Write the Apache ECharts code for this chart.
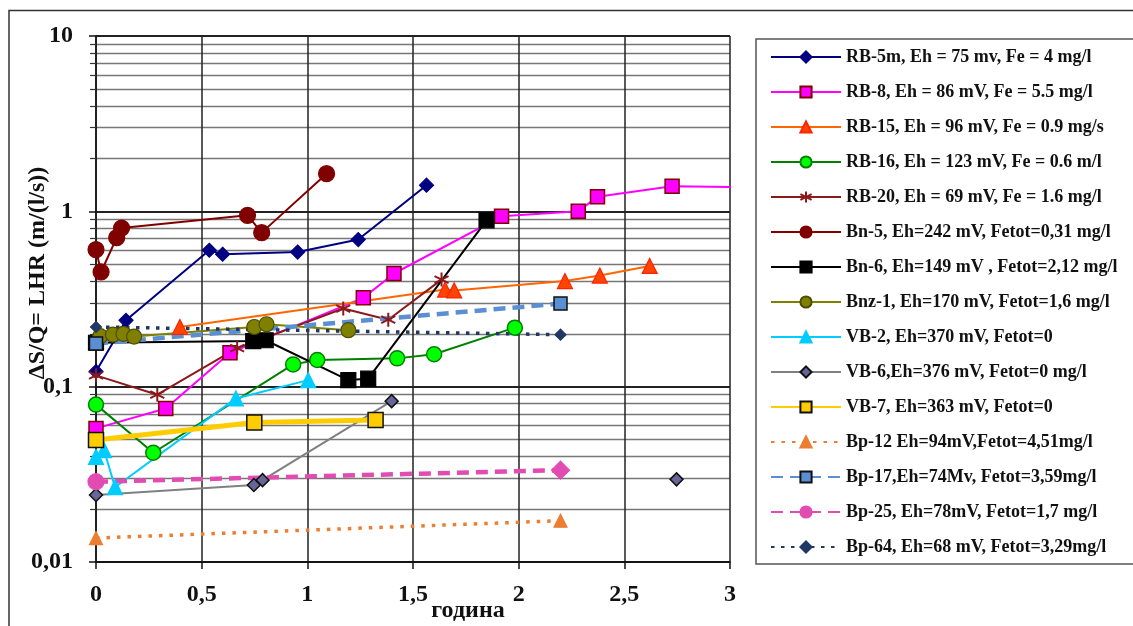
<!DOCTYPE html>
<html><head><meta charset="utf-8">
<script src="https://cdn.jsdelivr.net/npm/echarts@6/dist/echarts.min.js"></script>
<style>html,body{margin:0;padding:0;background:#fff}#c{width:1133px;height:626px}</style>
</head><body><div id="c"></div>
<script>
// ---- data (x = година, y = ΔS/Q) ----
const seriesNames = [
  'RB-5m, Eh = 75 mv, Fe = 4 mg/l',
  'RB-8, Eh = 86 mV, Fe = 5.5 mg/l',
  'RB-15, Eh = 96 mV, Fe = 0.9 mg/s',
  'RB-16, Eh = 123 mV, Fe = 0.6 m/l',
  'RB-20, Eh = 69 mV, Fe = 1.6 mg/l',
  'Bn-5, Eh=242 mV, Fetot=0,31 mg/l',
  'Bn-6, Eh=149 mV , Fetot=2,12 mg/l',
  'Bnz-1, Eh=170 mV, Fetot=1,6 mg/l',
  'VB-2, Eh=370 mV, Fetot=0',
  'VB-6,Eh=376 mV, Fetot=0 mg/l',
  'VB-7, Eh=363 mV, Fetot=0',
  'Bp-12 Eh=94mV,Fetot=4,51mg/l',
  'Bp-17,Eh=74Mv, Fetot=3,59mg/l',
  'Bp-25, Eh=78mV, Fetot=1,7 mg/l',
  'Bp-64, Eh=68 mV, Fetot=3,29mg/l'
];
const rb5m = [[0,0.122],[0.142,0.239],[0.536,0.60],[0.599,0.569],[0.954,0.586],[1.241,0.69],[1.564,1.41]];
const rb8  = [[0,0.0578],[0.33,0.075],[0.634,0.156],[1.265,0.321],[1.41,0.442],[1.919,0.937],[2.282,1.0],[2.373,1.21],[2.726,1.39],[3.1,1.37]];
const rb15 = [[0.397,0.219],[1.652,0.358],[1.695,0.354],[2.219,0.40],[2.384,0.43],[2.62,0.488]];
const rb16 = [[0,0.079],[0.271,0.042],[0.933,0.134],[1.047,0.142],[1.425,0.145],[1.60,0.153],[1.982,0.217]];
const rb20 = [[0,0.116],[0.29,0.090],[0.668,0.166],[1.17,0.279],[1.383,0.241],[1.635,0.408]];
const bn5  = [[0,0.605],[0.024,0.451],[0.098,0.708],[0.121,0.803],[0.717,0.949],[0.784,0.756],[1.091,1.64]];
const bn6  = [[0,0.178],[0.744,0.182],[0.803,0.184],[1.194,0.109],[1.288,0.111],[1.848,0.889]];
const bnz1 = [[0.02,0.194],[0.08,0.198],[0.13,0.2],[0.18,0.193],[0.749,0.219],[0.807,0.227],[1.194,0.21]];
const vb2  = [[0,0.0398],[0.038,0.0435],[0.09,0.0267],[0.662,0.0857],[1.004,0.109]];
const vb6  = [[0,0.0241],[0.747,0.0275],[0.788,0.0293],[1.399,0.0827],[2.0,'-'],[2.747,0.0296]];
const vb7  = [[0,0.0496],[0.749,0.0625],[1.323,0.0645]];
const bp12 = [[0,0.0137],[2.198,0.0172]];
const bp17 = [[0,0.176],[2.198,0.298]];
const bp25 = [[0,0.0287],[2.198,0.0334]];
const bp64 = [[0,0.219],[2.198,0.198]];
const yTitle = 'ΔS/Q= LHR (m/(l/s))';
const xTitle = 'година';

// ---- styling ----
const FONT = '"Liberation Serif", "DejaVu Serif", serif';
const asterisk = 'path://M0,-10 L0,10 M-8.66,-5 L8.66,5 M-8.66,5 L8.66,-5 M0,-10 Z';
function S(name, data, o) {
  return {
    name, type: 'line', data,
    symbol: o.symbol, symbolSize: o.size,
    showSymbol: true,
    lineStyle: { color: o.line, width: o.width || 2, type: o.type || 'solid' },
    itemStyle: { color: o.fill, borderColor: o.border || o.fill, borderWidth: o.bw == null ? 1.2 : o.bw },
    emphasis: { disabled: true },
    animation: false
  };
}
const bp25Data = bp25.map((p, i) => i === bp25.length - 1 ? { value: p, symbol: 'diamond', symbolSize: 18 } : p);

const chart = echarts.init(document.getElementById('c'), null, { renderer: 'canvas' });
chart.setOption({
  backgroundColor: '#ffffff',
  animation: false,
  grid: { left: 96, right: 403, top: 36, bottom: 64 },
  xAxis: {
    type: 'value', min: 0, max: 3, interval: 0.5,
    axisLine: { lineStyle: { color: '#111', width: 1.5 } },
    axisTick: { show: true, length: 7, lineStyle: { color: '#111', width: 1.5 } },
    splitLine: { show: true, lineStyle: { color: '#222', width: 1.5 } },
    axisLabel: { fontFamily: FONT, fontWeight: 'bold', fontSize: 24, color: '#111', margin: 21,
      formatter: v => String(v).replace('.', ',') }
  },
  yAxis: {
    type: 'log', logBase: 10, min: 0.01, max: 10,
    axisLine: { show: true, lineStyle: { color: '#111', width: 1.5 } },
    axisTick: { show: true, length: 7, lineStyle: { color: '#111', width: 1.5 } },
    minorTick: { show: true, splitNumber: 9, length: 6, lineStyle: { color: '#333', width: 1.2 } },
    splitLine: { show: true, lineStyle: { color: '#222', width: 1.8 } },
    minorSplitLine: { show: true, lineStyle: { color: '#777', width: 1.4 } },
    axisLabel: { fontFamily: FONT, fontWeight: 'bold', fontSize: 24, color: '#111', margin: 23,
      formatter: v => String(v).replace('.', ',') }
  },
  legend: {
    orient: 'vertical', left: 770, top: 47, padding: 0,
    itemWidth: 70, itemHeight: 14, itemGap: 15,
    textStyle: { fontFamily: FONT, fontWeight: 'bold', fontSize: 18, color: '#111', lineHeight: 20 },
    data: seriesNames
  },
  graphic: [
    { type: 'rect', silent: true, z: -10, shape: { x: 9, y: 10.5, width: 1200, height: 700 },
      style: { fill: 'none', stroke: '#333', lineWidth: 1.5 } },
    { type: 'rect', silent: true, z: -10, shape: { x: 756, y: 39, width: 420, height: 525 },
      style: { fill: 'none', stroke: '#555', lineWidth: 1.5 } },
    { type: 'text', silent: true, x: 38, y: 273, rotation: Math.PI / 2,
      style: { text: yTitle, font: 'bold 24px ' + FONT, fill: '#111', align: 'center', verticalAlign: 'middle' } },
    { type: 'text', silent: true, x: 468, y: 611,
      style: { text: xTitle, font: 'bold 24px ' + FONT, fill: '#111', align: 'center', verticalAlign: 'middle' } }
  ],
  series: [
    S(seriesNames[0], rb5m, { symbol: 'diamond', size: 14, line: '#000080', fill: '#000080' }),
    S(seriesNames[1], rb8, { symbol: 'rect', size: 14, line: '#ff00ff', fill: '#ff00ff', border: '#800000', bw: 1.5 }),
    S(seriesNames[2], rb15, { symbol: 'triangle', size: 15, line: '#ff6600', fill: '#ff4400', border: '#ff2200' }),
    S(seriesNames[3], rb16, { symbol: 'circle', size: 15, line: '#008000', fill: '#00ff00', border: '#008000', bw: 1.5 }),
    S(seriesNames[4], rb20, { symbol: asterisk, size: 14, line: '#8b1a1a', fill: '#8b1a1a', border: '#8b1a1a', bw: 2 }),
    S(seriesNames[5], bn5, { symbol: 'circle', size: 16, line: '#800000', fill: '#800000' }),
    S(seriesNames[6], bn6, { symbol: 'rect', size: 15, line: '#000000', fill: '#000000' }),
    S(seriesNames[7], bnz1, { symbol: 'circle', size: 15, line: '#808000', fill: '#808000', border: '#4d4d00' }),
    S(seriesNames[8], vb2, { symbol: 'triangle', size: 15, line: '#00ccff', fill: '#00ccff' }),
    S(seriesNames[9], vb6, { symbol: 'diamond', size: 13, line: '#808080', fill: '#666699', border: '#111', bw: 1.5 }),
    S(seriesNames[10], vb7, { symbol: 'rect', size: 15, line: '#ffcc00', fill: '#ffcc00', border: '#111', bw: 1.5, width: 5 }),
    S(seriesNames[11], bp12, { symbol: 'triangle', size: 13, line: '#ed7d31', fill: '#ed7d31', width: 3.5, type: [3.5, 7] }),
    S(seriesNames[12], bp17, { symbol: 'rect', size: 13, line: '#5b8fd4', fill: '#5b8fd4', border: '#111', bw: 1.5, width: 4.5, type: [12, 7] }),
    S(seriesNames[13], bp25Data, { symbol: 'circle', size: 16, line: '#e24cb2', fill: '#e24cb2', width: 4.5, type: [12, 7] }),
    S(seriesNames[14], bp64, { symbol: 'diamond', size: 11, line: '#1f3864', fill: '#1f3864', width: 3.5, type: [3.5, 6.5] })
  ]
});
</script></body></html>
